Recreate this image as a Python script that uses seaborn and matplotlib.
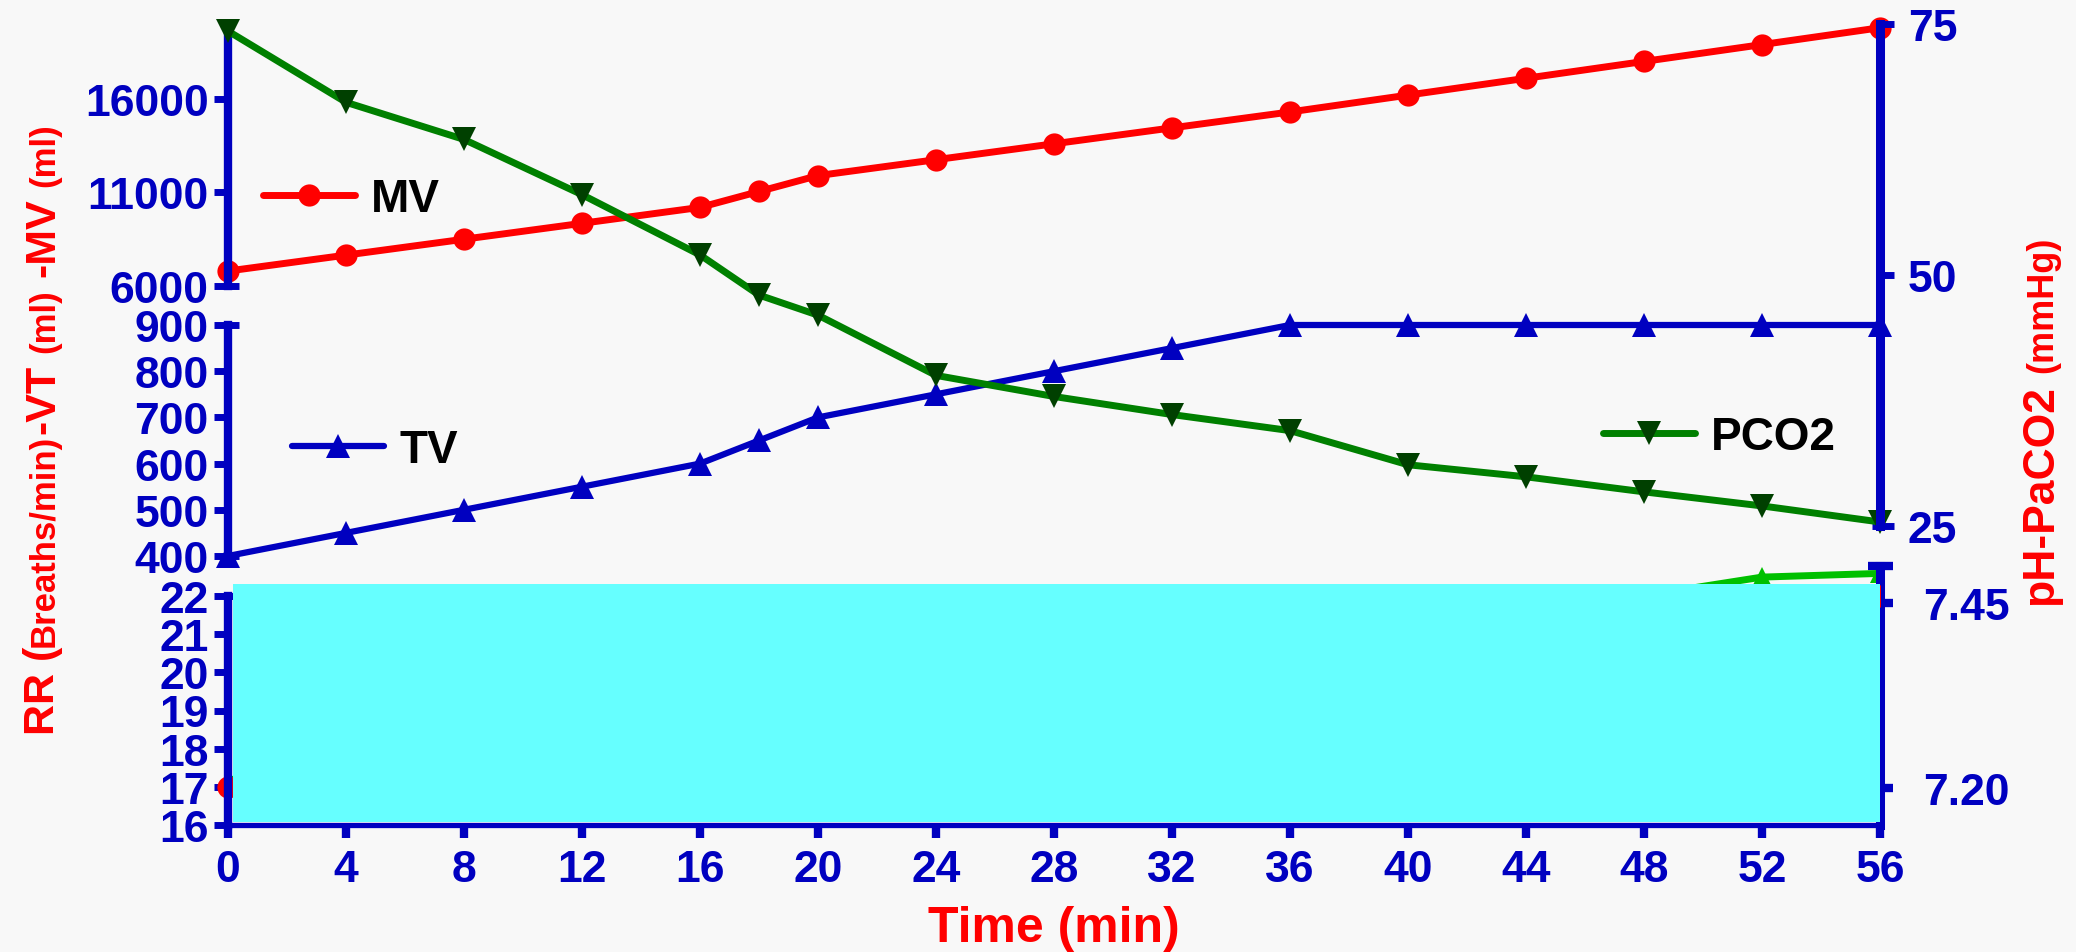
import matplotlib
matplotlib.use("Agg")
import matplotlib.pyplot as plt
import seaborn as sns
import pandas as pd
from matplotlib.ticker import FixedLocator, FixedFormatter
from matplotlib.patches import Rectangle
from matplotlib.transforms import Bbox, TransformedBbox

# ---------------- data ----------------
time_min = [0, 4, 8, 12, 16, 18, 20, 24, 28, 32, 36, 40, 44, 48, 52, 56]
mv_ml = [6800, 7650, 8500, 9350, 10200, 11050, 11900, 12750, 13600, 14450,
         15300, 16200, 17100, 18000, 18900, 19800]
vt_ml = [400, 450, 500, 550, 600, 650, 700, 750, 800, 850, 900, 900, 900, 900, 900, 900]
rr_bpm = [17, 17, 17, 17, 17, 17, 17, 17, 17, 17, 17, 18, 19, 20, 21, 22]
pco2_mmhg = [74.3, 67.2, 63.5, 58.0, 52.0, 48.0, 46.0, 40.0, 37.9, 36.1, 34.5,
             31.1, 29.9, 28.4, 27.0, 25.4]
ph_vals = [7.21, 7.25, 7.28, 7.31, 7.34, 7.36, 7.38, 7.41, 7.42, 7.43, 7.44,
           7.45, 7.455, 7.46, 7.485, 7.49]

x_ticks = [0, 4, 8, 12, 16, 20, 24, 28, 32, 36, 40, 44, 48, 52, 56]
mv_ticks = [6000, 11000, 16000]
vt_ticks = [400, 500, 600, 700, 800, 900]
rr_ticks = [16, 17, 18, 19, 20, 21, 22]
pco2_ticks = [25, 50, 75]
ph_ticks = [7.20, 7.45]
ph_tick_labels = ["7.20", "7.45"]

df = pd.DataFrame({"t": time_min, "MV": mv_ml, "TV": vt_ml, "RR": rr_bpm,
                   "PCO2": pco2_mmhg, "pH": ph_vals})

# ---------------- style ----------------
sns.set_theme(style="white")
plt.rcParams["font.family"] = ["Liberation Sans", "DejaVu Sans"]
plt.rcParams["font.weight"] = "bold"
plt.rcParams["axes.labelweight"] = "bold"

W, H = 2076, 953
BG = "#F8F8F8"
BLUE = "#0000C0"
RED = "#FF0000"
TICK_FS = 32

fig = plt.figure(figsize=(W / 100, H / 100), dpi=100, facecolor=BG)


def frect(x0, y0, x1, y1):
    return [x0 / W, 1 - y1 / H, (x1 - x0) / W, (y1 - y0) / H]


ax_mv = fig.add_axes(frect(228, 25, 1880, 287))
ax_vt = fig.add_axes(frect(228, 326, 1880, 557))
ax_rr = fig.add_axes(frect(228, 597, 1880, 826))
ax_pc = fig.add_axes(frect(228, 25, 1880, 527))
ax_ph = fig.add_axes(frect(228, 567, 1880, 826))
ax_ph.set_zorder(-1)

for ax in (ax_mv, ax_vt, ax_rr, ax_pc, ax_ph):
    ax.set_facecolor("none")
    ax.set_xlim(0, 56)
    ax.grid(False)
    for s in ax.spines.values():
        s.set_visible(False)
        s.set_color(BLUE)

# ---------------- series ----------------
sns.lineplot(data=df, x="t", y="MV", ax=ax_mv, color=RED, linewidth=5,
             marker="o", markersize=16, label="MV", clip_on=False, markeredgewidth=0)
sns.lineplot(data=df, x="t", y="TV", ax=ax_vt, color=BLUE, linewidth=4.5,
             marker="^", markersize=17, label="TV", clip_on=False, markeredgewidth=0)
sns.lineplot(data=df, x="t", y="RR", ax=ax_rr, color=RED, linewidth=5,
             marker="o", markersize=16, legend=False, markeredgewidth=0)
sns.lineplot(data=df, x="t", y="PCO2", ax=ax_pc, color="#008000", linewidth=5,
             marker="v", markersize=17, markerfacecolor="#004000",
             label="PCO2", clip_on=False, markeredgewidth=0)
sns.lineplot(data=df, x="t", y="pH", ax=ax_ph, color="#00C000", linewidth=5,
             marker="^", markersize=15, legend=False, clip_on=True, markeredgewidth=0)

# RR series: keep the marker spilling left of the axis, trim at the right edge
rr_line = ax_rr.lines[0]
rr_line.set_clip_on(True)
rr_line.set_clip_box(TransformedBbox(Bbox([[-0.03, -0.2], [1.0, 1.2]]), ax_rr.transAxes))

for ax in (ax_mv, ax_vt, ax_rr, ax_pc, ax_ph):
    ax.set_xlabel("")
    ax.set_ylabel("")

ax_mv.set_ylim(6000, 20000)
ax_vt.set_ylim(400, 900)
ax_rr.set_ylim(16, 22)
ax_pc.set_ylim(25, 75)
ax_ph.set_ylim(7.15, 7.50)

# ---------------- left axes ----------------
for ax, ticks, caps in ((ax_mv, mv_ticks, [6000]),
                        (ax_vt, vt_ticks, [400, 900]),
                        (ax_rr, rr_ticks, [22])):
    ax.spines["left"].set_visible(True)
    ax.spines["left"].set_linewidth(6)
    ax.yaxis.set_major_locator(FixedLocator(ticks))
    ax.yaxis.set_minor_locator(FixedLocator(caps))
    ax.yaxis.remove_overlapping_locs = False
    ax.tick_params(axis="y", which="major", left=True, right=False, direction="out",
                   length=10, width=5, color=BLUE, labelcolor=BLUE,
                   labelsize=TICK_FS, pad=4)
    ax.tick_params(axis="y", which="minor", left=True, right=False, direction="in",
                   length=8, width=5, color=BLUE)
    for lab in ax.get_yticklabels():
        lab.set_fontweight("bold")
    if ax is not ax_rr:
        ax.set_xticks([])

ax_rr.spines["bottom"].set_visible(True)
ax_rr.spines["bottom"].set_linewidth(3.8)
ax_rr.xaxis.set_major_locator(FixedLocator(x_ticks))
ax_rr.tick_params(axis="x", which="major", bottom=True, top=False, direction="out",
                  length=9, width=6, color=BLUE, labelcolor=BLUE,
                  labelsize=TICK_FS, pad=8)
for lab in ax_rr.get_xticklabels():
    lab.set_fontweight("bold")

# ---------------- right axes ----------------
ax_pc.spines["right"].set_visible(True)
ax_pc.spines["right"].set_linewidth(6.5)
ax_pc.set_xticks([])
ax_pc.yaxis.tick_right()
ax_pc.yaxis.set_major_locator(FixedLocator(pco2_ticks))
ax_pc.yaxis.set_minor_locator(FixedLocator([25]))
ax_pc.yaxis.remove_overlapping_locs = False
ax_pc.tick_params(axis="y", which="major", right=True, left=False, direction="out",
                  length=10, width=5, color=BLUE, labelcolor=BLUE,
                  labelsize=TICK_FS, pad=10)
ax_pc.tick_params(axis="y", which="minor", right=True, left=False, direction="in",
                  length=6, width=5, color=BLUE)

ax_ph.spines["right"].set_visible(True)
ax_ph.spines["right"].set_linewidth(6.5)
ax_ph.set_xticks([])
ax_ph.yaxis.tick_right()
ax_ph.yaxis.set_major_locator(FixedLocator(ph_ticks))
ax_ph.yaxis.set_major_formatter(FixedFormatter(ph_tick_labels))
ax_ph.yaxis.set_minor_locator(FixedLocator([7.50]))
ax_ph.tick_params(axis="y", which="major", right=True, left=False, direction="out",
                  length=9, width=6, color=BLUE, labelcolor=BLUE,
                  labelsize=TICK_FS, pad=22)
ax_ph.tick_params(axis="y", which="minor", right=True, left=False, direction="inout",
                  length=18, width=6, color=BLUE)
for ax in (ax_pc, ax_ph):
    for lab in ax.get_yticklabels():
        lab.set_fontweight("bold")

# ---------------- legends ----------------
leg_kw = dict(frameon=False, loc="center left", fontsize=33, handlelength=2.0,
              handletextpad=0.35, borderpad=0, borderaxespad=0,
              labelcolor="black", bbox_transform=fig.transFigure)
ax_mv.legend(bbox_to_anchor=(263 / W, 1 - 200 / H), **leg_kw)
ax_vt.legend(bbox_to_anchor=(292 / W, 1 - 451 / H), **leg_kw)
ax_pc.legend(bbox_to_anchor=(1603 / W, 1 - 438 / H), **leg_kw)

# ---------------- cover box over the bottom panel ----------------
fig.add_artist(Rectangle((233 / W, 1 - 823 / H), (1880 - 233) / W, (823 - 585) / H,
                         transform=fig.transFigure, facecolor="#66FFFF",
                         edgecolor="none", zorder=10))

# ---------------- titles ----------------
fig.text(1054 / W, 1 - 929 / H, "Time (min)", ha="center", va="center",
         fontsize=36, color=RED, fontweight="bold")

renderer = fig.canvas.get_renderer()


def stacked_label(pieces, x_px, y_start_px):
    y = y_start_px
    for txt, size, gap in pieces:
        t = fig.text(x_px / W, 1 - y / H, txt, rotation=90, rotation_mode="anchor",
                     ha="left", va="baseline", fontsize=size, color=RED,
                     fontweight="bold")
        bb = t.get_window_extent(renderer)
        y -= bb.height + gap


BIG, SMALL = 31, 25
stacked_label([("RR (", BIG, 0), ("Breaths/min)", SMALL, 0), ("-VT", BIG, 12),
               ("(ml)", SMALL, 12), ("-MV", BIG, 12), ("(ml)", SMALL, 0)],
              54, 735)
stacked_label([("pH-PaCO2", 32, 12), ("(mmHg)", 26, 0)], 2052, 605)

fig.savefig("out.png", dpi=100, facecolor=BG)
